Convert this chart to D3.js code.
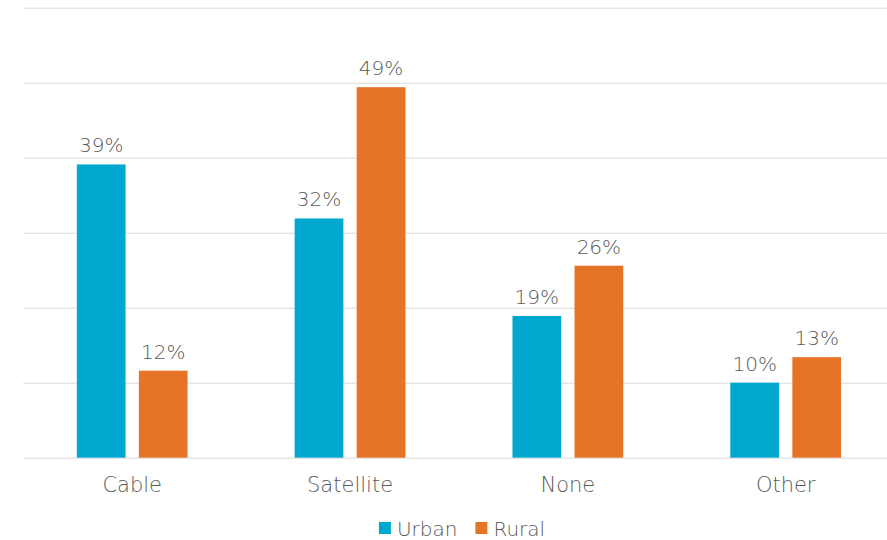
<!DOCTYPE html>
<html lang="en">
<head>
  <meta charset="utf-8">
  <title>TV service: urban vs rural</title>
  <style>
    body { margin: 0; background: #fff; }
    svg text { font-family: "DejaVu Sans", sans-serif; font-weight: 300; fill: #595959; }
  </style>
</head>
<body>
  <script src="https://cdnjs.cloudflare.com/ajax/libs/d3/7.8.5/d3.min.js"></script>
  <script>
  const categories = ["Cable", "Satellite", "None", "Other"];
  const seriesNames = ["Urban", "Rural"];
  const urban = [39.1, 31.9, 18.9, 10.0];
  const rural = [11.6, 49.4, 25.6, 13.4];
  const seriesColors = ["#00A8CF", "#E57427"];
  const gridTicks = [0, 10, 20, 30, 40, 50, 60];

  const width = 887;
  const height = 540;
  const plot = { left: 23.3, right: 894.6, top: 7.7, bottom: 457.7 };

  const svg = d3.select("body")
    .append("svg")
    .attr("width", width)
    .attr("height", height);

  const x = d3.scaleBand()
    .domain(categories)
    .range([plot.left, plot.right])
    .padding(0);

  const xInner = d3.scaleBand()
    .domain(seriesNames)
    .range([0, x.bandwidth()])
    .paddingInner(0.2145)
    .paddingOuter(0.863);

  const y = d3.scaleLinear()
    .domain([0, 60])
    .range([plot.bottom, plot.top]);

  // gridlines
  const grid = svg.append("g")
    .attr("transform", `translate(${plot.left},0)`)
    .call(d3.axisLeft(y)
      .tickValues(gridTicks)
      .tickSize(-(plot.right - plot.left))
      .tickFormat(""));
  grid.select(".domain").remove();
  grid.selectAll("line").attr("stroke", "#D9D9D9").attr("stroke-width", 1);

  const rows = categories.map((c, i) => ({ cat: c, values: [urban[i], rural[i]] }));

  const groups = svg.append("g")
    .selectAll("g")
    .data(rows)
    .join("g")
    .attr("transform", d => `translate(${x(d.cat)},0)`);

  groups.selectAll("rect")
    .data(d => d.values.map((v, j) => ({ name: seriesNames[j], v, j })))
    .join("rect")
    .attr("x", d => xInner(d.name))
    .attr("y", d => y(d.v))
    .attr("width", xInner.bandwidth())
    .attr("height", d => y(0) - y(d.v))
    .attr("fill", d => seriesColors[d.j]);

  groups.selectAll("text")
    .data(d => d.values.map((v, j) => ({ name: seriesNames[j], v })))
    .join("text")
    .attr("x", d => xInner(d.name) + xInner.bandwidth() / 2)
    .attr("y", d => y(d.v) - 12)
    .attr("text-anchor", "middle")
    .style("font-size", "20px")
    .text(d => Math.round(d.v) + "%");

  // category axis
  const xAxis = svg.append("g")
    .attr("transform", `translate(0,${plot.bottom})`)
    .call(d3.axisBottom(x).tickSize(0));
  xAxis.select(".domain").remove();
  xAxis.attr("font-family", null).attr("font-size", null);
  xAxis.selectAll("text")
    .attr("y", 34)
    .attr("dy", 0)
    .attr("fill", null)
    .style("font-size", "21px");

  // legend
  const legend = svg.append("g");
  const items = legend.selectAll("g")
    .data(seriesNames)
    .join("g");
  items.append("rect")
    .attr("width", 12)
    .attr("height", 12)
    .attr("y", 522)
    .attr("fill", (d, i) => seriesColors[i]);
  items.append("text")
    .attr("x", 18)
    .attr("y", 535.5)
    .style("font-size", "20px")
    .text(d => d);

  let offset = 0;
  const itemWidths = [];
  items.each(function () {
    const w = 18 + this.querySelector("text").getComputedTextLength();
    itemWidths.push(w);
  });
  const totalW = d3.sum(itemWidths) + 18 * (itemWidths.length - 1);
  let start = 462 - totalW / 2;
  items.attr("transform", (d, i) => {
    const t = `translate(${start + offset},0)`;
    offset += itemWidths[i] + 18;
    return t;
  });
  </script>
</body>
</html>
